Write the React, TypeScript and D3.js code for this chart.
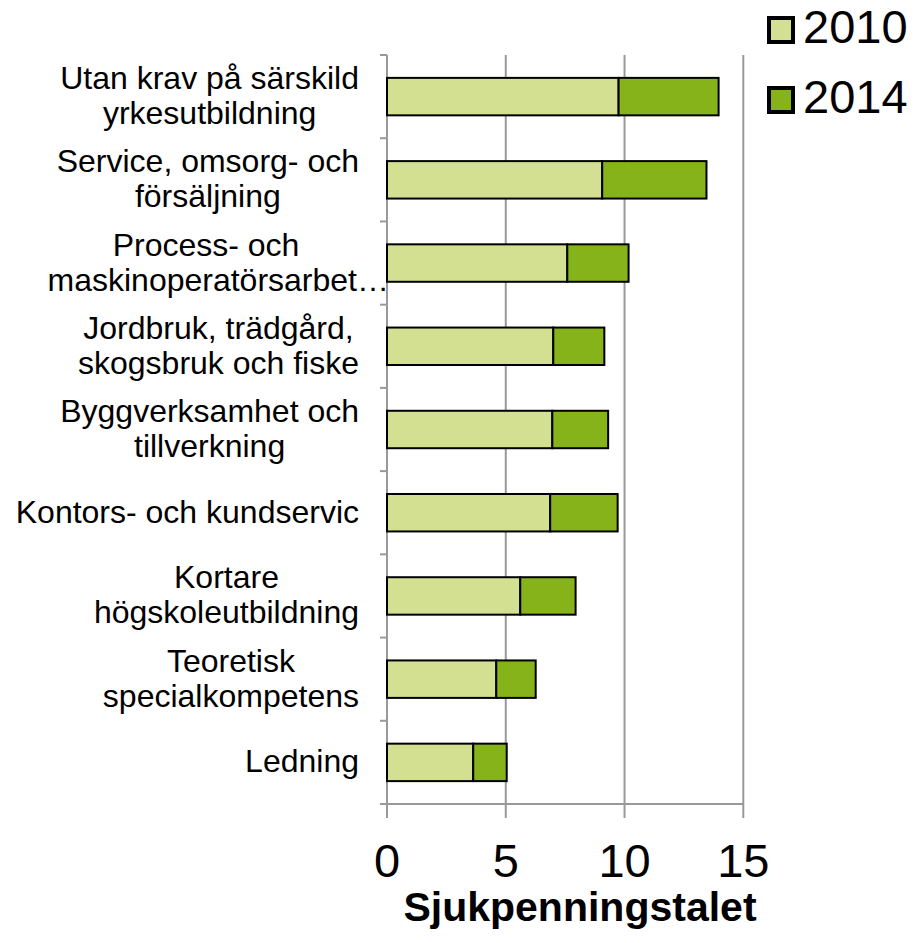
import React, { useMemo } from "react";
import * as d3 from "d3";

const categories: string[][] = [
  ["Utan krav på särskild", "yrkesutbildning"],
  ["Service, omsorg- och", "försäljning"],
  ["Process- och", "maskinoperatörsarbet…"],
  ["Jordbruk, trädgård,", "skogsbruk och fiske"],
  ["Byggverksamhet och", "tillverkning"],
  ["Kontors- och kundservic"],
  ["Kortare", "högskoleutbildning"],
  ["Teoretisk", "specialkompetens"],
  ["Ledning"],
];
const values2010 = [9.75, 9.06, 7.59, 7.0, 6.96, 6.87, 5.61, 4.6, 3.63];
const values2014 = [4.21, 4.39, 2.58, 2.15, 2.35, 2.84, 2.33, 1.66, 1.41];
const seriesNames = ["2010", "2014"];
const xTicks = [0, 5, 10, 15];
const xTitle = "Sjukpenningstalet";

const COLORS = ["#d3df91", "#86b31a"];
const FONT = "'Liberation Sans', Arial, sans-serif";

export default function App() {
  const W = 919, H = 943;
  const x = d3.scaleLinear().domain([0, 15]).range([387, 743.3]);
  const idx = categories.map((_, i) => String(i));
  const y = d3.scaleBand().domain(idx).range([55, 804]).paddingInner(0.55).paddingOuter(0.275);
  const step = y.step();
  const labelFont = 32;
  const lineH = 35;

  const measure = useMemo(() => {
    const c = document.createElement("canvas").getContext("2d")!;
    c.font = `${labelFont}px ${FONT}`;
    return (s: string) => c.measureText(s).width;
  }, []);

  const stack = d3.stack<number>().keys(["a", "b"]).value((i, k) => (k === "a" ? values2010[i] : values2014[i]));
  const stacked = stack(d3.range(categories.length));

  const bandTop = (i: number) => 55 + i * step;

  return (
    <svg width={W} height={H} style={{ position: "absolute", left: 0, top: 0, background: "#fff" }}>
      {xTicks.map((t) => (
        <line key={"g" + t} x1={x(t)} x2={x(t)} y1={55} y2={818} stroke="#999" strokeWidth={2} />
      ))}
      {d3.range(categories.length + 1).map((i) => (
        <line key={"ct" + i} x1={380} x2={387} y1={bandTop(i)} y2={bandTop(i)} stroke="#999" strokeWidth={2} />
      ))}
      <line x1={380} x2={743.3} y1={804} y2={804} stroke="#999" strokeWidth={2} />
      {stacked.map((layer, si) =>
        layer.map((d, i) => (
          <rect
            key={si + "-" + i}
            x={x(d[0])}
            y={y(String(i))!}
            width={x(d[1]) - x(d[0])}
            height={y.bandwidth()}
            fill={COLORS[si]}
            stroke="#000"
            strokeWidth={2}
          />
        ))
      )}
      {categories.map((lines, i) => {
        const cy = y(String(i))! + y.bandwidth() / 2;
        const hasEll = lines.some((l) => l.endsWith("…"));
        const maxW = hasEll ? 306 : Math.max(...lines.map(measure));
        const cx = 359 - maxW / 2;
        const n = lines.length;
        return lines.map((l, j) => {
          const base = cy + (j - (n - 1) / 2) * lineH + 10;
          const ell = l.endsWith("…");
          return (
            <text
              key={i + "-" + j}
              x={ell ? 389 : cx}
              y={base}
              textAnchor={ell ? "end" : "middle"}
              fontFamily={FONT}
              fontSize={labelFont}
              fill="#000"
            >
              {l}
            </text>
          );
        });
      })}
      {xTicks.map((t) => (
        <text key={"xl" + t} x={x(t)} y={877} textAnchor="middle" fontFamily={FONT} fontSize={47} fill="#000">
          {t}
        </text>
      ))}
      <text x={580} y={921} textAnchor="middle" fontFamily={FONT} fontSize={41} fontWeight="bold" fill="#000">
        {xTitle}
      </text>
      {seriesNames.map((s, i) => (
        <g key={s}>
          <rect x={769} y={18 + i * 70} width={24} height={24} fill={COLORS[i]} stroke="#000" strokeWidth={4} />
          <text x={803} y={43 + i * 70} fontFamily={FONT} fontSize={47} fill="#000">
            {s}
          </text>
        </g>
      ))}
    </svg>
  );
}
